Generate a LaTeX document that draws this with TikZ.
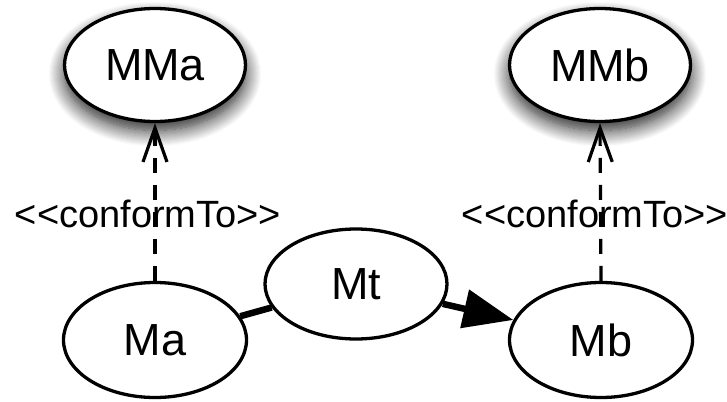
\documentclass[tikz,border=0pt]{standalone}
\usepackage{fontspec}
\setmainfont{Liberation Sans}
\usetikzlibrary{arrows.meta,shadows.blur,shapes.geometric}

\tikzset{
  model/.style={draw, ellipse, line width=3.3pt, fill=white, inner sep=0pt,
    font=\fontsize{45}{52}\selectfont},
  metamodel/.style={model, blur shadow={shadow xshift=0pt, shadow yshift=-9pt,
    shadow blur radius=16pt, shadow blur steps=16, shadow opacity=90}},
  conform/.style={line width=3.2pt, dash pattern=on 15pt off 12pt,
    -{Straight Barb[length=34pt, width=24pt, line width=3.2pt]}},
  stereotype/.style={font=\fontsize{38}{44}\selectfont, inner sep=0pt},
  transfo/.style={line width=6.5pt},
}

\begin{document}
\begin{tikzpicture}[x=1pt, y=-1pt]
  \useasboundingbox (0,0) rectangle (727,401);

  % metamodels
  \node[metamodel, minimum width=181pt, minimum height=113pt] (MMa) at (155,65) {MMa};
  \node[metamodel, minimum width=181pt, minimum height=113pt] (MMb) at (600,65) {MMb};

  % models
  \node[model, minimum width=183pt, minimum height=115pt] (Ma) at (155,340) {Ma};
  \node[model, minimum width=183pt, minimum height=115pt] (Mb) at (601,340) {Mb};
  \node[model, minimum width=182pt, minimum height=110pt] (Mt) at (356,284) {Mt};

  % conformance relations
  \draw[conform] (Ma.north) -- (MMa.south);
  \draw[conform] (Mb.north) -- (MMb.south);
  \node[stereotype] (ca) at (148,214) {{<}{<}conformTo{>}{>}};
  \node[stereotype] (cb) at (595,214) {{<}{<}conformTo{>}{>}};

  % transformation
  \draw[transfo] (Ma) -- (Mt);
  \draw[transfo, -{Triangle[length=50pt, width=38pt]}] (Mt) -- (Mb);
\end{tikzpicture}
\end{document}
